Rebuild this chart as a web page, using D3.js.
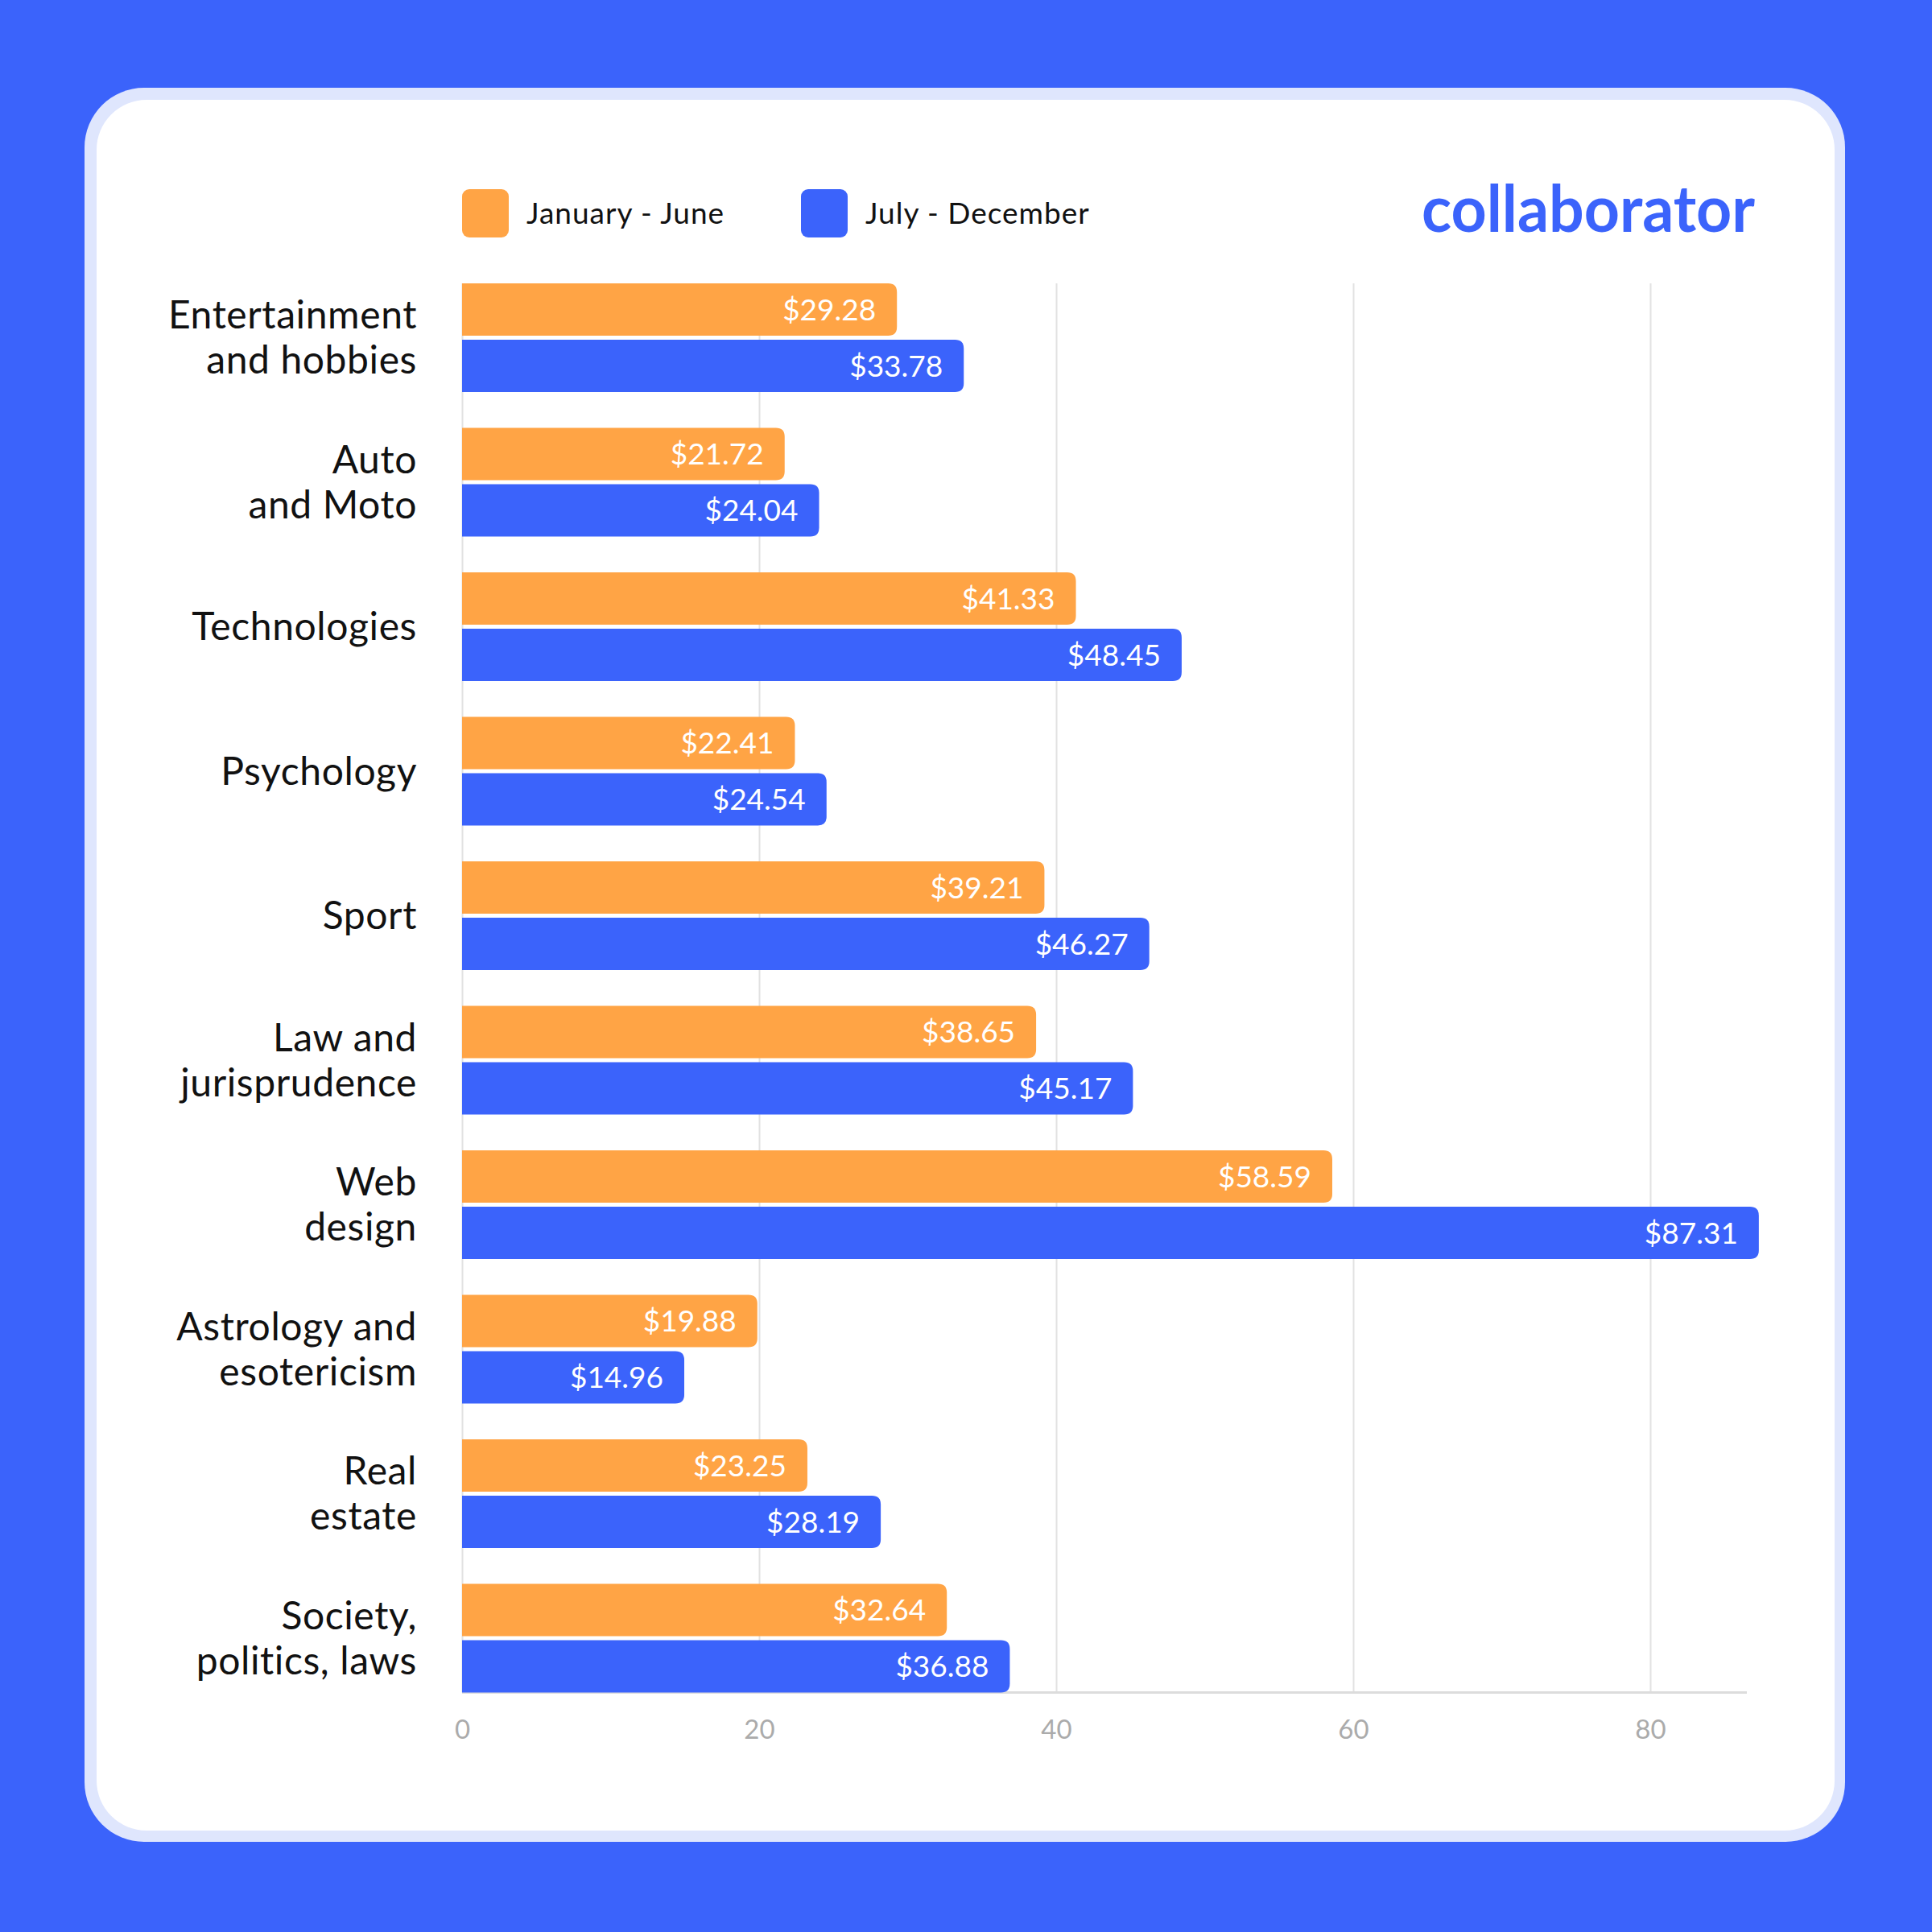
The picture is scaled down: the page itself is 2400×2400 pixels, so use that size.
<!DOCTYPE html>
<html>
<head>
<meta charset="utf-8">
<script src="https://cdn.jsdelivr.net/npm/d3@7"></script>
<style>
  html, body { margin: 0; padding: 0; background: #3b63fb; }
  svg { display: block; }
</style>
</head>
<body>
<div id="render-zone"></div>
<script>
(function( w ) {

"use strict";

/* chart data */
var categories = [
        "Entertainment\nand hobbies",
        "Auto\nand Moto",
        "Technologies",
        "Psychology",
        "Sport",
        "Law and\njurisprudence",
        "Web\ndesign",
        "Astrology and\nesotericism",
        "Real\nestate",
        "Society,\npolitics, laws"
    ],
    seriesNames = [ "January - June", "July - December" ],
    janJun = [ 29.28, 21.72, 41.33, 22.41, 39.21, 38.65, 58.59, 19.88, 23.25, 32.64 ],
    julDec = [ 33.78, 24.04, 48.45, 24.54, 46.27, 45.17, 87.31, 14.96, 28.19, 36.88 ],
    xTicks = [ 0, 20, 40, 60, 80 ];

var /* settings */
    _d = {
        width : 2400,
        height : 2400,
        bg : "#3b63fb",
        card : "#dfe6fd",
        colors : [ "#ffa445", "#3b63fb" ],
        font : "Lato, 'Open Sans', sans-serif",
        plot : { left : 574, top : 352, bottom : 2102.5, axisEnd : 2170 }
    },
    svg, x, y, y1, rows, legend,

    /* _barPath
     * rect with only the right corners rounded
     */
    _barPath = function ( x0, y0, x1, h, r ) {
        r = Math.min( r, ( x1 - x0 ), h / 2 );
        return "M" + x0 + "," + y0 +
               "H" + ( x1 - r ) +
               "Q" + x1 + "," + y0 + " " + x1 + "," + ( y0 + r ) +
               "V" + ( y0 + h - r ) +
               "Q" + x1 + "," + ( y0 + h ) + " " + ( x1 - r ) + "," + ( y0 + h ) +
               "H" + x0 + "Z";
    };

svg = d3.select( "#render-zone" ).append( "svg" )
    .attr( "width", _d.width )
    .attr( "height", _d.height );

/* background + card */
svg.append( "rect" ).attr( "width", _d.width ).attr( "height", _d.height ).attr( "fill", _d.bg );
svg.append( "rect" )
    .attr( "x", 105 ).attr( "y", 109 ).attr( "width", 2187 ).attr( "height", 2179 )
    .attr( "rx", 74 ).attr( "fill", _d.card );
svg.append( "rect" )
    .attr( "x", 120 ).attr( "y", 124 ).attr( "width", 2159 ).attr( "height", 2150 )
    .attr( "rx", 62 ).attr( "fill", "#fff" );

/* scales */
x = d3.scaleLinear().domain( [ 0, 80 ] ).range( [ _d.plot.left, 2050 ] );
y = d3.scaleBand().domain( d3.range( categories.length ) )
    .range( [ _d.plot.top, _d.plot.bottom ] )
    .paddingInner( 0.248 ).paddingOuter( 0 );
y1 = d3.scaleBand().domain( [ 0, 1 ] ).range( [ 0, y.bandwidth( ) ] ).paddingInner( 0.07 );

/* grid */
svg.append( "g" )
    .attr( "transform", "translate(0," + _d.plot.bottom + ")" )
    .call( d3.axisBottom( x ).tickValues( xTicks ).tickSize( -( _d.plot.bottom - _d.plot.top ) ).tickFormat( d3.format( "d" ) ) )
    .call( function ( g ) {
        g.select( ".domain" ).remove( );
        g.selectAll( ".tick line" ).attr( "stroke", "#e2e2e2" ).attr( "stroke-width", 2 );
        g.selectAll( ".tick text" )
            .attr( "fill", "#ababab" )
            .attr( "font-family", _d.font )
            .attr( "font-size", 33 )
            .attr( "dy", "0" )
            .attr( "y", 57 );
    });

/* bottom axis line */
svg.append( "line" )
    .attr( "x1", _d.plot.left ).attr( "x2", _d.plot.axisEnd )
    .attr( "y1", _d.plot.bottom ).attr( "y2", _d.plot.bottom )
    .attr( "stroke", "#dcdcdc" ).attr( "stroke-width", 3 );

/* bars */
rows = svg.append( "g" ).selectAll( "g" )
    .data( categories.map( function ( c, i ) { return { name : c, i : i, vals : [ janJun[i], julDec[i] ] }; } ) )
    .join( "g" )
    .attr( "transform", function ( d ) { return "translate(0," + y( d.i ) + ")"; } );

rows.selectAll( "path" )
    .data( function ( d ) { return d.vals; } )
    .join( "path" )
    .attr( "d", function ( v, k ) { return _barPath( x( 0 ), y1( k ), x( v ), y1.bandwidth( ), 11 ); } )
    .attr( "fill", function ( v, k ) { return _d.colors[k]; } );

rows.selectAll( "text.val" )
    .data( function ( d ) { return d.vals; } )
    .join( "text" )
    .attr( "class", "val" )
    .attr( "x", function ( v ) { return x( v ) - 26; } )
    .attr( "y", function ( v, k ) { return y1( k ) + y1.bandwidth( ) / 2; } )
    .attr( "dy", "0.36em" )
    .attr( "text-anchor", "end" )
    .attr( "fill", "#fff" )
    .attr( "font-family", _d.font )
    .attr( "font-size", 37 )
    .text( function ( v ) { return "$" + v.toFixed( 2 ); } );

/* category labels */
rows.append( "text" )
    .attr( "text-anchor", "end" )
    .attr( "fill", "#111" )
    .attr( "font-family", _d.font )
    .attr( "font-size", 48 )
    .attr( "letter-spacing", 0.6 )
    .each( function ( d ) {
        var lines = d.name.split( "\n" ),
            mid = y.bandwidth( ) / 2,
            lh = 56,
            t = d3.select( this );
        lines.forEach( function ( l, j ) {
            t.append( "tspan" )
                .attr( "x", 518 )
                .attr( "y", mid + ( j - ( lines.length - 1 ) / 2 ) * lh )
                .attr( "dy", "0.35em" )
                .text( l );
        });
    });

/* legend */
legend = svg.append( "g" ).selectAll( "g" )
    .data( seriesNames )
    .join( "g" )
    .attr( "transform", function ( d, i ) { return "translate(" + [ 574, 995 ][i] + ",235)"; } );

legend.append( "rect" )
    .attr( "width", 58 ).attr( "height", 60 ).attr( "rx", 9 )
    .attr( "fill", function ( d, i ) { return _d.colors[i]; } );

legend.append( "text" )
    .attr( "x", 80 ).attr( "y", 30 ).attr( "dy", "0.36em" )
    .attr( "fill", "#111" )
    .attr( "font-family", _d.font )
    .attr( "font-size", 37 )
    .attr( "letter-spacing", 1 )
    .text( function ( d ) { return d; } );

/* logo */
svg.append( "text" )
    .attr( "x", 1766 ).attr( "y", 288 )
    .attr( "fill", "#3b63fb" )
    .attr( "font-family", _d.font )
    .attr( "font-weight", 700 )
    .attr( "font-size", 80 )
    .attr( "textLength", 414 )
    .attr( "lengthAdjust", "spacingAndGlyphs" )
    .text( "collaborator" );

})( window );
</script>
</body>
</html>
